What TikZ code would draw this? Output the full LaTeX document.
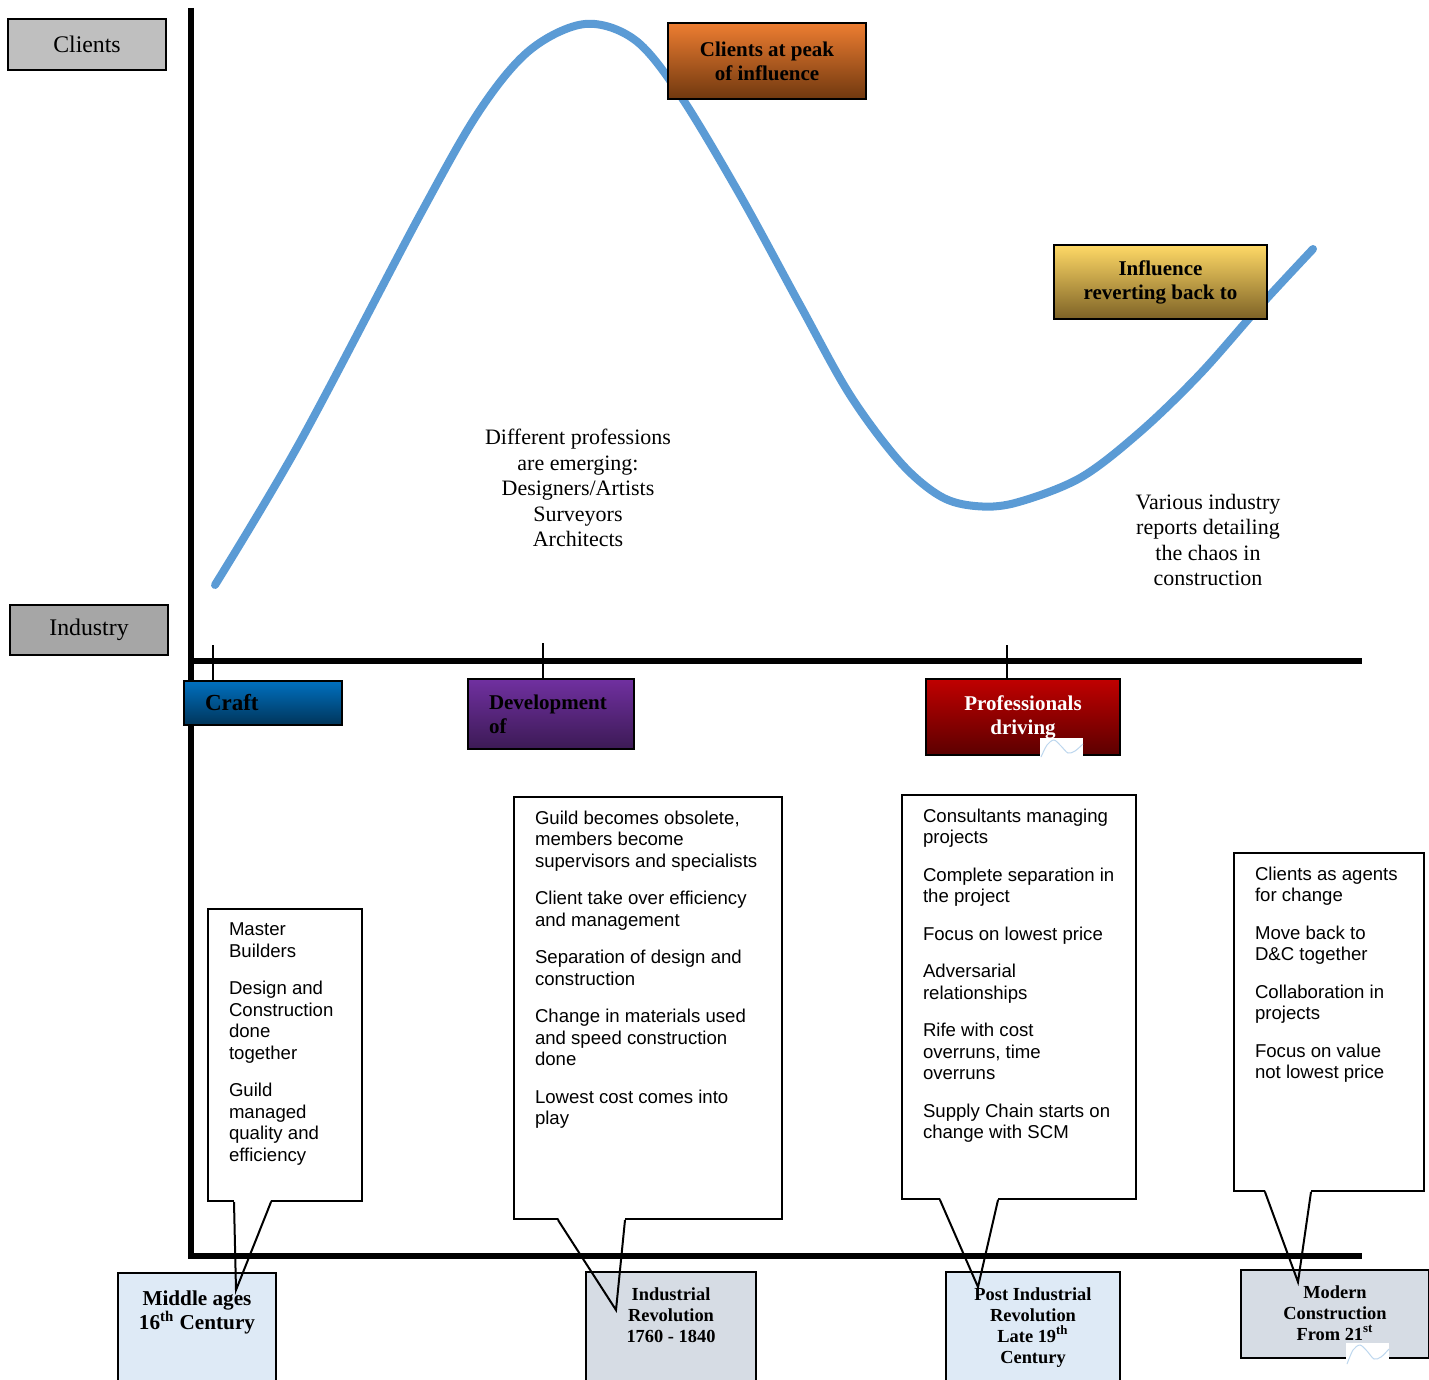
\documentclass[tikz,border=0pt]{standalone}
\usepackage{fontspec}
\setmainfont{Liberation Serif}
\setsansfont{Liberation Sans}
\usetikzlibrary{positioning}

\definecolor{curveblue}{HTML}{5B9BD5}
\definecolor{waveblue}{HTML}{BDD7EE}
\definecolor{clientgray}{HTML}{BFBFBF}
\definecolor{industrygray}{HTML}{A6A6A6}
\definecolor{orangetop}{HTML}{ED7D31}
\definecolor{orangebot}{HTML}{70380F}
\definecolor{goldtop}{HTML}{FFD966}
\definecolor{goldbot}{HTML}{7D6226}
\definecolor{crafttop}{HTML}{0070C0}
\definecolor{craftbot}{HTML}{00355A}
\definecolor{devtop}{HTML}{7030A0}
\definecolor{devbot}{HTML}{3C1A55}
\definecolor{proftop}{HTML}{C00000}
\definecolor{profbot}{HTML}{5C0000}
\definecolor{paleblue}{HTML}{DEEAF6}
\definecolor{palegray}{HTML}{D6DCE4}

\newcommand{\boxtxt}[3]{\parbox[c][#2][t]{#1}{#3}}

\tikzset{
  axis/.style={line width=2.8pt},
  tickline/.style={line width=0.75pt},
  curve/.style={curveblue, line width=4pt, line cap=round},
  sidelabel/.style={draw, line width=1pt, minimum width=79pt, anchor=north west,
    font=\fontsize{11.9}{14}\selectfont},
  era/.style={draw, line width=1pt, anchor=north west,
    font=\bfseries\fontsize{10.5}{12}\selectfont},
  callout/.style={draw, fill=white, line width=1pt, anchor=north west,
    inner xsep=10.5pt, inner ysep=7pt, font=\sffamily\fontsize{9.3}{10.75}\selectfont},
  tail/.style={line width=1pt},
  period/.style={draw, line width=1pt, anchor=north west, inner xsep=0pt,
    inner ysep=7.8pt, font=\bfseries\fontsize{9.2}{10.5}\selectfont},
  note/.style={align=center, font=\fontsize{11}{12.75}\selectfont},
}

\begin{document}
\begin{tikzpicture}[x=0.5pt, y=-0.5pt]
\useasboundingbox (0,0) rectangle (1429,1380);

% influence curve
\draw[curve] plot[smooth, tension=0.55] coordinates {(215,585) (300,442) (420,215)
  (480,110) (530,50) (585,24) (635,40) (680,95) (740,195) (800,305) (850,395)
  (900,462) (940,496) (975,506) (1015,503) (1080,478) (1140,432) (1200,374)
  (1260,306) (1313,249)};

% callouts
\node[callout] (mid) at (207,908) {\boxtxt{56pt}{132pt}{\raggedright
  Master\\Builders\\[8pt]
  Design and\\Construction\\done\\together\\[8pt]
  Guild\\managed\\quality and\\efficiency}};
\node[callout] (devnote) at (513,796) {\boxtxt{113pt}{197pt}{\raggedright
  Guild becomes obsolete,\\members become\\supervisors and specialists\\[8pt]
  Client take over efficiency\\and management\\[8pt]
  Separation of design and\\construction\\[8pt]
  Change in materials used\\and speed construction\\done\\[8pt]
  Lowest cost comes into\\play}};
\node[callout] (profnote) at (901,794) {\boxtxt{96pt}{188pt}{\raggedright
  Consultants managing\\projects\\[8pt]
  Complete separation in\\the project\\[8pt]
  Focus on lowest price\\[8pt]
  Adversarial\\relationships\\[8pt]
  Rife with cost\\overruns, time\\overruns\\[8pt]
  Supply Chain starts on\\change with SCM}};
\node[callout] (modnote) at (1233,852) {\boxtxt{74pt}{155pt}{\raggedright
  Clients as agents\\for change\\[8pt]
  Move back to\\D\&C together\\[8pt]
  Collaboration in\\projects\\[8pt]
  Focus on value\\not lowest price}};

\coordinate (tipA) at (236,1290);
\coordinate (tipB) at (616,1310);
\coordinate (tipC) at (978,1287);
\coordinate (tipD) at (1298,1282);
\foreach \c/\a/\b/\t in {mid/13.5/32/tipA, devnote/22.5/56/tipB,
    profnote/19.5/48.5/tipC, modnote/16/39/tipD}
  \fill[white] ([xshift=\a pt, yshift=1.2pt]\c.south west) -- (\t)
    -- ([xshift=\b pt, yshift=1.2pt]\c.south west) -- cycle;

% axes
\draw[axis] (191,8) -- (191,1256) -- (1362,1256);
\draw[axis] (191,661) -- (1362,661);

% side labels
\node[sidelabel, fill=clientgray, minimum height=25.5pt] (clients) at (7,18) {Clients};
\node[sidelabel, fill=industrygray, minimum height=25pt] (industry) at (9,604) {Industry};

% eras
\node[era, top color=orangetop, bottom color=orangebot, minimum width=99pt,
  minimum height=38pt, align=center] (peak) at (667,22) {Clients at peak\\of influence};
\node[era, top color=goldtop, bottom color=goldbot, minimum width=106.5pt,
  minimum height=37pt, align=center] (revert) at (1053,244) {Influence\\reverting back to};
\node[era, top color=crafttop, bottom color=craftbot, text width=58pt, inner xsep=10.5pt,
  minimum height=22pt, align=left, font=\bfseries\fontsize{11.5}{12}\selectfont] (craft) at (183,680) {Craft};
\node[era, top color=devtop, bottom color=devbot, text width=62pt, inner xsep=10.5pt,
  minimum height=35pt, align=left] (devel) at (467,678) {Development\\of};
\node[era, top color=proftop, bottom color=profbot, minimum width=97pt,
  minimum height=38pt, align=center, text=white] (prof) at (925,678) {Professionals\\driving};

\coordinate (k1) at (213,645);
\coordinate (k2) at (543,643);
\coordinate (k3) at (1007,645);
\draw[tickline] (k1) -- (k1 |- craft.north);
\draw[tickline] (k2) -- (k2 |- devel.north);
\draw[tickline] (k3) -- (k3 |- prof.north);

% notes
\node[note] (emerge) at (578,488) {Different professions\\are emerging:\\Designers/Artists\\Surveyors\\Architects};
\node[note] (chaos) at (1208,540) {Various industry\\reports detailing\\the chaos in\\construction};

% periods
\node[period, fill=paleblue, inner ysep=9pt, font=\bfseries\fontsize{10.6}{12}\selectfont]
  (midage) at (117,1272) {\boxtxt{79pt}{38pt}{\centering Middle ages\\16\textsuperscript{th} Century}};
\node[period, fill=palegray] (indrev) at (585,1271)
  {\boxtxt{85pt}{40pt}{\centering Industrial\\Revolution\\1760 - 1840}};
\node[period, fill=paleblue] (postrev) at (945,1271)
  {\boxtxt{87pt}{40pt}{\centering Post Industrial\\Revolution\\Late 19\textsuperscript{th}\\Century}};
\node[period, fill=palegray] (modcon) at (1240,1269)
  {\boxtxt{94pt}{28.4pt}{\centering Modern\\Construction\\From 21\textsuperscript{st}}};

\foreach \c/\a/\b/\t in {mid/13.5/32/tipA, devnote/22.5/56/tipB,
    profnote/19.5/48.5/tipC, modnote/16/39/tipD}
  \draw[tail] ([xshift=\a pt]\c.south west) -- (\t) -- ([xshift=\b pt]\c.south west);

% small wave marks
\fill[white] (1040,738) rectangle (1083,758);
\draw[waveblue, line width=0.5pt] plot[smooth] coordinates {(1041,757) (1047,745)
  (1054,740) (1061,746) (1068,753) (1075,751) (1083,744)};
\fill[white] (1346,1343) rectangle (1389,1365);
\draw[waveblue, line width=0.5pt] plot[smooth] coordinates {(1347,1364) (1353,1350)
  (1360,1345) (1367,1351) (1374,1359) (1381,1357) (1389,1349)};
\end{tikzpicture}
\end{document}
